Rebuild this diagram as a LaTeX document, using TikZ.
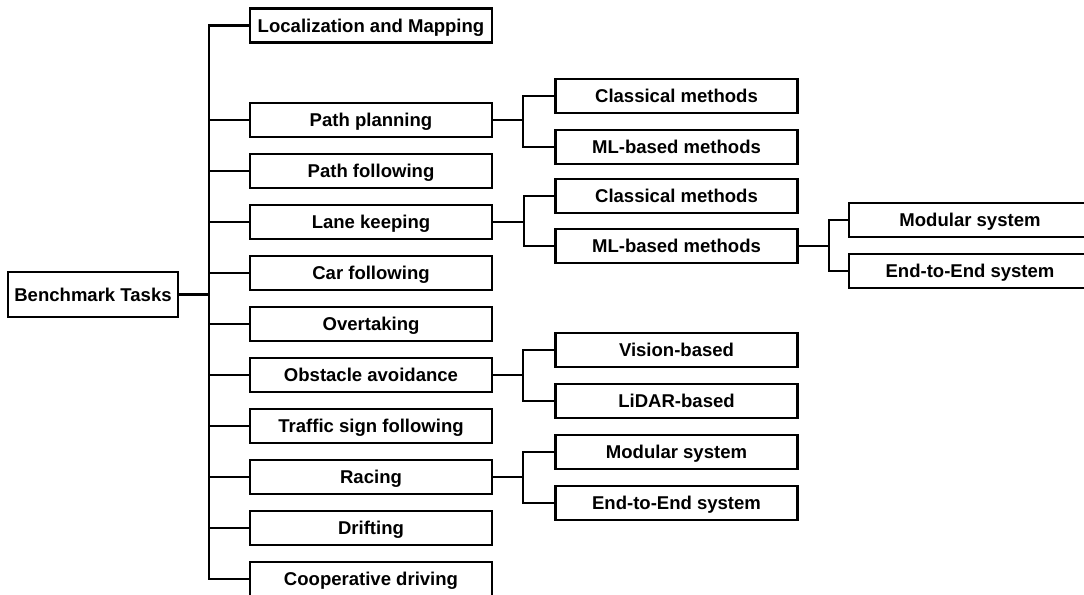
\documentclass[tikz,border=0pt]{standalone}
\usepackage{fontspec}
\setmainfont{Liberation Sans}
\usepackage{tikz}
\usetikzlibrary{positioning,calc}

\begin{document}
\begin{tikzpicture}[
    x=0.75pt, y=-0.75pt,
    task/.style={rectangle, draw=black, line width=1.7pt, minimum width=181.5pt, minimum height=25.5pt, inner sep=0pt, text centered, text depth=0pt, font=\fontsize{13.9}{16}\selectfont\bfseries},
    root/.style={task, minimum width=127.5pt, minimum height=33.75pt},
    link/.style={line width=1.7pt, black}
]
\clip (0,0) rectangle (1084,594);

% root and first level
\node[root] (bench) at (93,294.5) {Benchmark Tasks};
\node[task] (loc) at (371,25.5) {Localization and Mapping};
\node[task] (plan) at (371,120) {Path planning};
\node[task] (follow) at (371,171) {Path following};
\node[task] (lane) at (371,222) {Lane keeping};
\node[task] (car) at (371,273) {Car following};
\node[task] (overtake) at (371,324) {Overtaking};
\node[task] (obstacle) at (371,375) {Obstacle avoidance};
\node[task] (sign) at (371,426) {Traffic sign following};
\node[task] (racing) at (371,477) {Racing};
\node[task] (drift) at (371,528) {Drifting};
\node[task] (coop) at (371,579) {Cooperative driving};

% second level
\node[task] (planclass) at (676.5,96) {Classical methods};
\node[task] (planml) at (676.5,147) {ML-based methods};
\node[task] (laneclass) at (676.5,196) {Classical methods};
\node[task] (laneml) at (676.5,246) {ML-based methods};
\node[task] (vision) at (676.5,350) {Vision-based};
\node[task] (lidar) at (676.5,401) {LiDAR-based};
\node[task] (racemod) at (676.5,452) {Modular system};
\node[task] (racee2e) at (676.5,503) {End-to-End system};

% third level
\node[task] (lanemod) at (970,220) {Modular system};
\node[task] (lanee2e) at (970,271) {End-to-End system};

% connectors
\draw[link] (bench.east) -- (209,294.5) coordinate (trunk);
\foreach \n in {loc,plan,follow,lane,car,overtake,obstacle,sign,racing,drift,coop}
    \draw[link] (trunk) |- (\n.west);

\draw[link] (plan.east) -- ++(30,0) coordinate (jplan);
\draw[link] (jplan) |- (planclass.west);
\draw[link] (jplan) |- (planml.west);

\draw[link] (lane.east) -- ++(31,0) coordinate (jlane);
\draw[link] (jlane) |- (laneclass.west);
\draw[link] (jlane) |- (laneml.west);

\draw[link] (laneml.east) -- ++(30,0) coordinate (jml);
\draw[link] (jml) |- (lanemod.west);
\draw[link] (jml) |- (lanee2e.west);

\draw[link] (obstacle.east) -- ++(30,0) coordinate (jobst);
\draw[link] (jobst) |- (vision.west);
\draw[link] (jobst) |- (lidar.west);

\draw[link] (racing.east) -- ++(30,0) coordinate (jrace);
\draw[link] (jrace) |- (racemod.west);
\draw[link] (jrace) |- (racee2e.west);

\end{tikzpicture}
\end{document}
